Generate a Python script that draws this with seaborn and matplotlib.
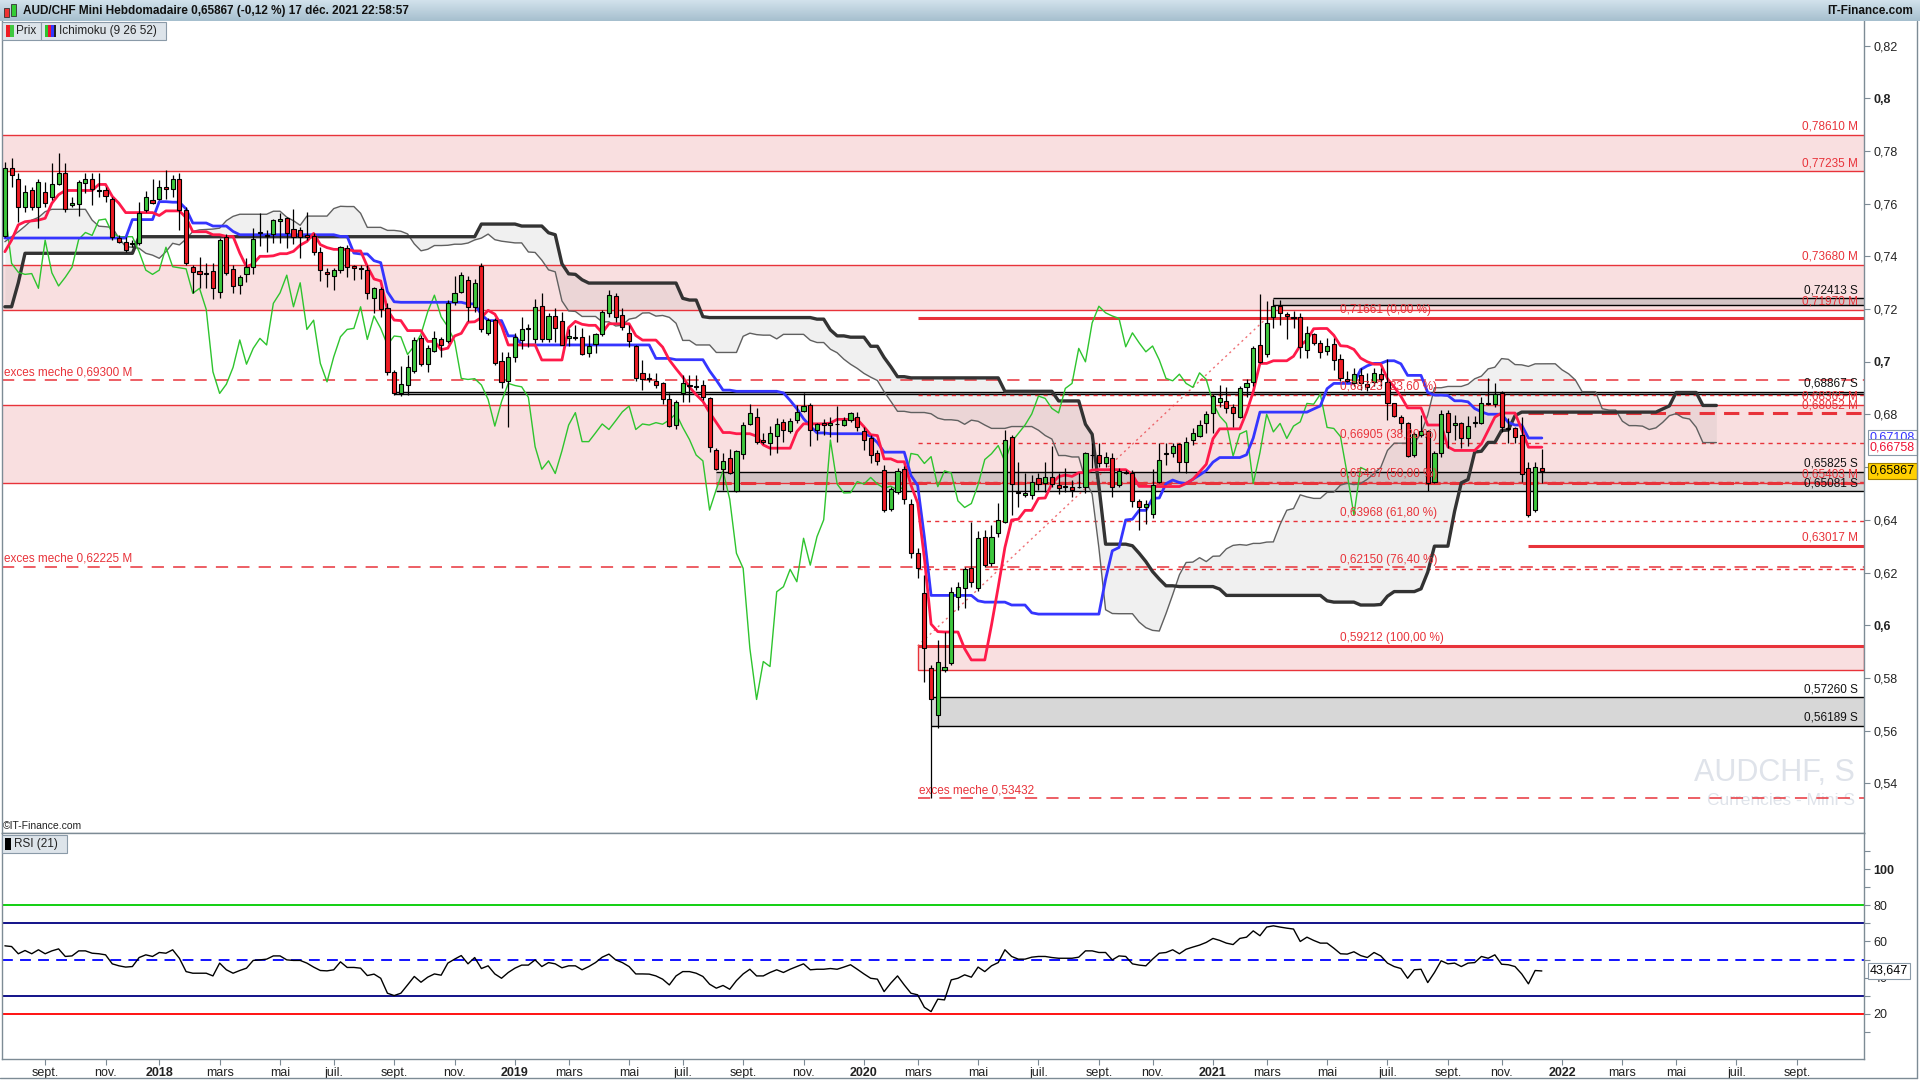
import numpy as np
import pandas as pd
import seaborn as sns
import matplotlib.pyplot as plt
from matplotlib.patches import Rectangle
from matplotlib.lines import Line2D

#-----------------------------------------------------------------------------------------
#----------------------------------- DONNEES ---------------------------------------------
#-----------------------------------------------------------------------------------------

debut = "2017-07-24"   # premiere bougie hebdomadaire

ouverture = [
    0.7479, 0.7734, 0.7696, 0.7589, 0.7652, 0.7589, 0.7646, 0.7627, 0.7677, 0.7715,
    0.7595, 0.7598, 0.7680, 0.7696, 0.7650, 0.7652, 0.7617, 0.7469, 0.7456, 0.7447,
    0.7450, 0.7576, 0.7614, 0.7620, 0.7662, 0.7655, 0.7693, 0.7576, 0.7359, 0.7345,
    0.7338, 0.7345, 0.7264, 0.7475, 0.7351, 0.7290, 0.7332, 0.7361, 0.7489, 0.7482,
    0.7485, 0.7535, 0.7545, 0.7503, 0.7501, 0.7482, 0.7477, 0.7418, 0.7342, 0.7326,
    0.7348, 0.7433, 0.7364, 0.7357, 0.7350, 0.7241, 0.7276, 0.7203, 0.6962, 0.6880,
    0.6912, 0.6965, 0.7089, 0.6991, 0.7042, 0.7085, 0.7079, 0.7228, 0.7266, 0.7310,
    0.7209, 0.7363, 0.7110, 0.7158, 0.7003, 0.6928, 0.7017, 0.7083, 0.7126, 0.7085,
    0.7211, 0.7085, 0.7174, 0.7155, 0.7089, 0.7089, 0.7095, 0.7034, 0.7067, 0.7105,
    0.7184, 0.7249, 0.7177, 0.7108, 0.7060, 0.6958, 0.6937, 0.6928, 0.6918, 0.6857,
    0.6760, 0.6880, 0.6912, 0.6906, 0.6912, 0.6861, 0.6665, 0.6592, 0.6636, 0.6509,
    0.6650, 0.6763, 0.6789, 0.6705, 0.6690, 0.6718, 0.6772, 0.6738, 0.6779, 0.6814,
    0.6836, 0.6743, 0.6769, 0.6760, 0.6764, 0.6760, 0.6779, 0.6792, 0.6738, 0.6709,
    0.6655, 0.6589, 0.6440, 0.6507, 0.6592, 0.6460, 0.6273, 0.6123, 0.5836, 0.5660,
    0.5830, 0.5855, 0.6108, 0.6140, 0.6216, 0.6140, 0.6334, 0.6235, 0.6349, 0.6390,
    0.6716, 0.6503, 0.6494, 0.6494, 0.6557, 0.6541, 0.6561, 0.6532, 0.6524, 0.6526,
    0.6524, 0.6526, 0.6646, 0.6646, 0.6614, 0.6633, 0.6532, 0.6579, 0.6576, 0.6472,
    0.6447, 0.6421, 0.6545, 0.6650, 0.6654, 0.6688, 0.6621, 0.6703, 0.6718, 0.6769,
    0.6807, 0.6848, 0.6852, 0.6829, 0.6789, 0.6903, 0.6924, 0.7063, 0.7029, 0.7171,
    0.7211, 0.7181, 0.7171, 0.7171, 0.7044, 0.7105, 0.7072, 0.7042, 0.7067, 0.7010,
    0.6933, 0.6918, 0.6949, 0.6915, 0.6924, 0.6953, 0.6924, 0.6842, 0.6789, 0.6769,
    0.6646, 0.6722, 0.6738, 0.6545, 0.6655, 0.6804, 0.6760, 0.6766, 0.6709, 0.6766,
    0.6766, 0.6844, 0.6839, 0.6880, 0.6748, 0.6747, 0.6722, 0.6595, 0.6437, 0.6595,
]

haut = [
    0.7760, 0.7772, 0.7715, 0.7671, 0.7665, 0.7696, 0.7684, 0.7753, 0.7794, 0.7753,
    0.7627, 0.7690, 0.7715, 0.7715, 0.7715, 0.7665, 0.7627, 0.7481, 0.7475, 0.7462,
    0.7608, 0.7649, 0.7693, 0.7690, 0.7728, 0.7709, 0.7715, 0.7589, 0.7367, 0.7399,
    0.7374, 0.7374, 0.7471, 0.7484, 0.7367, 0.7330, 0.7393, 0.7507, 0.7564, 0.7501,
    0.7541, 0.7564, 0.7551, 0.7582, 0.7510, 0.7570, 0.7488, 0.7437, 0.7355, 0.7355,
    0.7440, 0.7443, 0.7367, 0.7367, 0.7367, 0.7285, 0.7285, 0.7222, 0.6968, 0.6984,
    0.7026, 0.7095, 0.7102, 0.7064, 0.7118, 0.7095, 0.7234, 0.7326, 0.7342, 0.7326,
    0.7313, 0.7374, 0.7165, 0.7165, 0.7038, 0.7038, 0.7108, 0.7169, 0.7143, 0.7237,
    0.7260, 0.7186, 0.7203, 0.7190, 0.7123, 0.7140, 0.7127, 0.7100, 0.7110, 0.7196,
    0.7272, 0.7260, 0.7203, 0.7140, 0.7064, 0.7007, 0.6956, 0.6956, 0.6924, 0.6883,
    0.6855, 0.6950, 0.6950, 0.6950, 0.6931, 0.6865, 0.6671, 0.6652, 0.6668, 0.6665,
    0.6773, 0.6840, 0.6823, 0.6728, 0.6756, 0.6785, 0.6781, 0.6785, 0.6836, 0.6883,
    0.6842, 0.6766, 0.6781, 0.6789, 0.6832, 0.6789, 0.6810, 0.6810, 0.6751, 0.6722,
    0.6665, 0.6608, 0.6526, 0.6595, 0.6605, 0.6478, 0.6292, 0.6190, 0.5849, 0.5944,
    0.5975, 0.6146, 0.6165, 0.6222, 0.6393, 0.6359, 0.6362, 0.6380, 0.6465, 0.6741,
    0.6722, 0.6620, 0.6579, 0.6570, 0.6579, 0.6620, 0.6680, 0.6576, 0.6595, 0.6551,
    0.6579, 0.6659, 0.6690, 0.6693, 0.6659, 0.6655, 0.6595, 0.6589, 0.6589, 0.6478,
    0.6475, 0.6592, 0.6692, 0.6692, 0.6692, 0.6692, 0.6715, 0.6747, 0.6779, 0.6814,
    0.6877, 0.6912, 0.6905, 0.6839, 0.6908, 0.6933, 0.7060, 0.7257, 0.7232, 0.7237,
    0.7234, 0.7190, 0.7194, 0.7186, 0.7135, 0.7110, 0.7082, 0.7089, 0.7092, 0.7030,
    0.6966, 0.6975, 0.6978, 0.6956, 0.6978, 0.6978, 0.7010, 0.6844, 0.6798, 0.6772,
    0.6734, 0.6798, 0.6743, 0.6662, 0.6817, 0.6817, 0.6798, 0.6772, 0.6794, 0.6794,
    0.6867, 0.6940, 0.6921, 0.6890, 0.6785, 0.6753, 0.6791, 0.6620, 0.6620, 0.6669,
]

bas = [
    0.7475, 0.7665, 0.7532, 0.7570, 0.7576, 0.7507, 0.7589, 0.7614, 0.7671, 0.7570,
    0.7589, 0.7553, 0.7642, 0.7595, 0.7627, 0.7608, 0.7462, 0.7450, 0.7418, 0.7437,
    0.7443, 0.7570, 0.7599, 0.7614, 0.7620, 0.7627, 0.7500, 0.7367, 0.7260, 0.7279,
    0.7279, 0.7237, 0.7241, 0.7330, 0.7262, 0.7257, 0.7304, 0.7332, 0.7440, 0.7418,
    0.7450, 0.7450, 0.7434, 0.7447, 0.7393, 0.7462, 0.7405, 0.7308, 0.7285, 0.7272,
    0.7338, 0.7321, 0.7310, 0.7313, 0.7237, 0.7186, 0.7171, 0.6950, 0.6874, 0.6870,
    0.6874, 0.6959, 0.6984, 0.6962, 0.7038, 0.7017, 0.7073, 0.7215, 0.7260, 0.7156,
    0.7190, 0.7114, 0.7102, 0.6988, 0.6899, 0.6754, 0.7000, 0.7047, 0.7055, 0.7070,
    0.7076, 0.7076, 0.7076, 0.7064, 0.7060, 0.7083, 0.7025, 0.7017, 0.7034, 0.7098,
    0.7171, 0.7152, 0.7120, 0.7055, 0.6928, 0.6893, 0.6924, 0.6899, 0.6840, 0.6754,
    0.6744, 0.6849, 0.6849, 0.6893, 0.6855, 0.6659, 0.6589, 0.6513, 0.6574, 0.6504,
    0.6630, 0.6760, 0.6688, 0.6688, 0.6646, 0.6652, 0.6697, 0.6731, 0.6769, 0.6810,
    0.6680, 0.6703, 0.6722, 0.6716, 0.6697, 0.6756, 0.6772, 0.6738, 0.6665, 0.6614,
    0.6608, 0.6431, 0.6434, 0.6498, 0.6460, 0.6254, 0.6178, 0.5786, 0.53432, 0.5608,
    0.5824, 0.5849, 0.6058, 0.6064, 0.6146, 0.6131, 0.6222, 0.6225, 0.6334, 0.6387,
    0.6418, 0.6450, 0.6485, 0.6478, 0.6513, 0.6507, 0.6526, 0.6498, 0.6507, 0.6488,
    0.6520, 0.6501, 0.6595, 0.6602, 0.6602, 0.6488, 0.6526, 0.6574, 0.6450, 0.6361,
    0.6385, 0.6408, 0.6539, 0.6608, 0.6639, 0.6583, 0.6579, 0.6684, 0.6713, 0.6731,
    0.6731, 0.6827, 0.6804, 0.6751, 0.6785, 0.6867, 0.6908, 0.6994, 0.7019, 0.7130,
    0.7139, 0.7085, 0.7127, 0.7016, 0.7016, 0.7063, 0.7016, 0.7026, 0.6968, 0.6928,
    0.6924, 0.6908, 0.6893, 0.6890, 0.6908, 0.6908, 0.6779, 0.6791, 0.6728, 0.6640,
    0.6640, 0.6716, 0.6510, 0.6538, 0.6640, 0.6671, 0.6703, 0.6671, 0.6680, 0.6753,
    0.6763, 0.6836, 0.6829, 0.6734, 0.6690, 0.6690, 0.6545, 0.64116, 0.6431, 0.6540,
]

cloture = [
    0.7734, 0.7710, 0.7589, 0.7646, 0.7589, 0.7684, 0.7602, 0.7677, 0.7715, 0.7579,
    0.7604, 0.7684, 0.7693, 0.7658, 0.7652, 0.7630, 0.7475, 0.7456, 0.7424, 0.7449,
    0.7566, 0.7624, 0.7604, 0.7662, 0.7655, 0.7696, 0.7576, 0.7374, 0.7340, 0.7332,
    0.7335, 0.7279, 0.7462, 0.7338, 0.7288, 0.7321, 0.7359, 0.7465, 0.7491, 0.7480,
    0.7538, 0.7542, 0.7488, 0.7475, 0.7475, 0.7475, 0.7418, 0.7348, 0.7332, 0.7348,
    0.7435, 0.7361, 0.7357, 0.7353, 0.7260, 0.7279, 0.7199, 0.6962, 0.6880, 0.6915,
    0.6979, 0.7083, 0.6991, 0.7051, 0.7089, 0.7064, 0.7222, 0.7262, 0.7329, 0.7209,
    0.7300, 0.7123, 0.7158, 0.6994, 0.6924, 0.7019, 0.7095, 0.7123, 0.7127, 0.7209,
    0.7085, 0.7174, 0.7127, 0.7064, 0.7098, 0.7095, 0.7028, 0.7060, 0.7105, 0.7190,
    0.7253, 0.7171, 0.7133, 0.7079, 0.6937, 0.6933, 0.6936, 0.6912, 0.6857, 0.6756,
    0.6849, 0.6918, 0.6910, 0.6905, 0.6865, 0.6678, 0.6592, 0.6624, 0.6576, 0.6662,
    0.6760, 0.6807, 0.6697, 0.6697, 0.6730, 0.6764, 0.6743, 0.6776, 0.6810, 0.6832,
    0.6743, 0.6764, 0.6760, 0.6769, 0.6763, 0.6779, 0.6804, 0.6751, 0.6705, 0.6646,
    0.6624, 0.6437, 0.6516, 0.6586, 0.6478, 0.6273, 0.6216, 0.5912, 0.5718, 0.5862,
    0.5843, 0.6127, 0.6146, 0.6212, 0.6165, 0.6330, 0.6228, 0.6336, 0.6400, 0.6703,
    0.6536, 0.6502, 0.6503, 0.6545, 0.6536, 0.6561, 0.6536, 0.6520, 0.6528, 0.6513,
    0.6525, 0.6652, 0.6647, 0.6614, 0.6640, 0.6526, 0.6586, 0.6578, 0.6472, 0.6447,
    0.6462, 0.6533, 0.6629, 0.6651, 0.6682, 0.6621, 0.6696, 0.6728, 0.6760, 0.6802,
    0.6870, 0.6861, 0.6823, 0.6806, 0.6899, 0.6918, 0.7051, 0.7000, 0.7148, 0.7211,
    0.7186, 0.7174, 0.7165, 0.7057, 0.7110, 0.7072, 0.7038, 0.7060, 0.7007, 0.6937,
    0.6928, 0.6953, 0.6918, 0.6903, 0.6958, 0.6933, 0.6844, 0.6794, 0.6766, 0.6642,
    0.6726, 0.6738, 0.6538, 0.6655, 0.6801, 0.6734, 0.6766, 0.6709, 0.6756, 0.6772,
    0.6842, 0.6839, 0.6877, 0.6751, 0.6747, 0.6716, 0.6574, 0.6418, 0.6599, 0.65867,
]

rsi_21 = [
    57.6, 57.2, 53.2, 55.0, 53.2, 55.4, 53.2, 54.8, 55.9, 51.7,
    52.0, 54.8, 54.8, 53.5, 53.2, 52.6, 47.6, 46.5, 45.8, 46.1,
    51.1, 52.6, 51.7, 53.9, 53.5, 55.4, 50.7, 43.3, 42.4, 42.4,
    42.4, 40.9, 48.0, 44.3, 42.4, 43.9, 45.2, 49.5, 49.8, 50.2,
    52.0, 52.0, 49.8, 49.5, 49.5, 48.0, 45.8, 43.9, 43.7, 44.3,
    48.7, 45.6, 45.6, 45.2, 41.1, 41.9, 39.6, 31.3, 30.0, 31.3,
    35.9, 40.6, 37.4, 40.2, 42.0, 41.3, 48.0, 50.2, 52.2, 47.6,
    51.1, 45.0, 46.5, 42.0, 39.6, 42.8, 45.2, 46.9, 46.9, 49.8,
    46.1, 48.3, 47.6, 45.4, 46.5, 46.5, 44.3, 46.1, 48.3, 51.3,
    53.0, 49.8, 48.3, 46.1, 42.0, 42.0, 41.9, 40.9, 39.1, 35.9,
    40.9, 43.3, 43.3, 42.4, 40.6, 36.3, 34.1, 35.6, 33.5, 38.3,
    42.0, 44.6, 40.9, 40.9, 42.8, 44.3, 42.8, 44.6, 46.1, 47.6,
    44.3, 44.6, 44.6, 45.0, 44.6, 45.8, 47.1, 44.6, 42.0, 39.6,
    39.1, 32.2, 36.9, 40.9, 35.9, 31.3, 30.4, 23.5, 21.1, 28.0,
    27.6, 38.7, 39.6, 41.5, 40.2, 45.8, 43.3, 46.5, 48.3, 55.4,
    51.7, 50.2, 50.2, 51.3, 51.7, 51.7, 51.1, 50.7, 50.7, 50.7,
    51.3, 54.8, 54.8, 53.9, 53.9, 49.8, 52.0, 51.7, 47.6, 46.9,
    46.5, 50.2, 53.5, 53.9, 55.4, 53.2, 55.7, 56.9, 58.0, 59.5,
    61.7, 60.6, 59.1, 58.3, 61.7, 62.4, 65.9, 63.2, 68.0, 68.7,
    68.0, 67.4, 66.9, 60.0, 62.4, 60.6, 59.1, 59.1, 56.3, 53.2,
    53.0, 54.3, 52.2, 51.1, 53.9, 52.0, 48.0, 46.1, 45.0, 39.6,
    44.3, 44.6, 37.2, 42.8, 49.3, 47.6, 48.0, 46.1, 48.0, 48.3,
    51.7, 50.7, 52.6, 47.4, 47.1, 46.1, 42.0, 36.5, 43.9, 43.647,
]

# debut des lignes Ichimoku (historique avant la premiere bougie)
tenkan_debut = [0.7418, 0.7462, 0.7520, 0.7532, 0.7535, 0.7538, 0.7545, 0.7602]
kijun_debut = [
    0.7470, 0.7470, 0.7470, 0.7470, 0.7470, 0.7470, 0.7470, 0.7470, 0.7470, 0.7470,
    0.7470, 0.7470, 0.7470, 0.7470, 0.7470, 0.7470, 0.7470, 0.7470, 0.7470, 0.7540,
    0.7540, 0.7540, 0.7540, 0.7608, 0.7608,
]
ssa_debut = [
    0.7456, 0.7475, 0.7494, 0.7515, 0.7538, 0.7548, 0.7570, 0.7579, 0.7579, 0.7579,
    0.7579, 0.7579, 0.7579, 0.7538, 0.7515, 0.7513, 0.7510, 0.7469, 0.7437, 0.7435,
    0.7431, 0.7412, 0.7405, 0.7393, 0.7418, 0.7450,
]
ssb_debut = [
    0.7209, 0.7209, 0.7300, 0.7412, 0.7412, 0.7412, 0.7412, 0.7412, 0.7412, 0.7412,
    0.7412, 0.7412, 0.7412, 0.7412, 0.7412, 0.7412, 0.7412, 0.7412, 0.7412, 0.7412,
    0.7475, 0.7475, 0.7475, 0.7475, 0.7475, 0.7475, 0.7475, 0.7475, 0.7475, 0.7475,
    0.7475, 0.7475, 0.7475, 0.7475, 0.7475, 0.7475, 0.7475, 0.7475, 0.7475, 0.7475,
    0.7475, 0.7475, 0.7475, 0.7475, 0.7475, 0.7475, 0.7475, 0.7475, 0.7475, 0.7475,
    0.7475, 0.7475, 0.7475, 0.7475, 0.7475, 0.7475, 0.7475, 0.7475, 0.7475, 0.7475,
    0.7475, 0.7475, 0.7475, 0.7475, 0.7475, 0.7475, 0.7475, 0.7475, 0.7475, 0.7475,
    0.7475, 0.7523, 0.7523, 0.7523, 0.7523, 0.7523, 0.7523,
]

# zones et niveaux
zones_m = [(0.77235, 0.78610), (0.71970, 0.73680), (0.65403, 0.68365)]
zone_basse = (0.58290, 0.59212)
niveaux_m = [0.78610, 0.77235, 0.73680, 0.71970, 0.68365, 0.68052, 0.65403, 0.63017]
niveaux_s = [0.72413, 0.68867, 0.65825, 0.65081, 0.57260, 0.56189]
bandes_s = [(0.72150, 0.72413), (0.68760, 0.68867), (0.65081, 0.65825), (0.56189, 0.57260)]
fibo_niveaux = [0.71661, 0.68723, 0.66905, 0.65437, 0.63968, 0.62150, 0.59212]
fibo_pct = ["0,00", "23,60", "38,20", "50,00", "61,80", "76,40", "100,00"]
exces = [0.69300, 0.62225, 0.53432]

#-----------------------------------------------------------------------------------------
#----------------------------------- CALCULS ---------------------------------------------
#-----------------------------------------------------------------------------------------

n = len(cloture)
dates = pd.date_range(debut, periods=n, freq="7D")
dates_ext = pd.date_range(debut, periods=n + 26, freq="7D")
semaines = pd.date_range(debut, periods=300, freq="7D")

hs = pd.Series(haut)
ls = pd.Series(bas)
tenkan = (hs.rolling(9).max() + ls.rolling(9).min()) / 2
tenkan.iloc[:8] = tenkan_debut
kijun = (hs.rolling(26).max() + ls.rolling(26).min()) / 2
kijun.iloc[:25] = kijun_debut

ssa = np.full(n + 26, np.nan)
ssa[:26] = ssa_debut
ssa[26:] = ((tenkan + kijun) / 2).values
mid52 = ((hs.rolling(52).max() + ls.rolling(52).min()) / 2).values
ssb = np.full(n + 26, np.nan)
ssb[:77] = ssb_debut
ssb[77:] = mid52[51:]


def virgule(v, d=5):
    return f"{v:.{d}f}".replace(".", ",")


#-----------------------------------------------------------------------------------------
#----------------------------------- FIGURE ----------------------------------------------
#-----------------------------------------------------------------------------------------

sns.set_theme(style="white")
plt.rcParams["font.family"] = ["Liberation Sans", "DejaVu Sans"]

W, H = 1920, 1080
def fx(x): return x / W
def fy(y): return 1 - y / H

fig = plt.figure(figsize=(19.2, 10.8), dpi=100)
fig.patch.set_facecolor("white")

ax = fig.add_axes([fx(2), fy(833), fx(1864) - fx(2), fy(21) - fy(833)])
ax_rsi = fig.add_axes([fx(2), fy(1059), fx(1864) - fx(2), fy(833) - fy(1059)], sharex=ax)

ROUGE = "#e8333a"
ROSE = "#f9dfe0"
x0 = pd.Timestamp(debut) - pd.Timedelta(days=3)
x1 = pd.Timestamp(debut) + pd.Timedelta(days=1939)

# zones roses (resistances M)
for b, t in zones_m:
    ax.axhspan(b, t, color=ROSE, lw=0, zorder=0)
    ax.axhline(b, color=ROUGE, lw=1, zorder=2)
    ax.axhline(t, color=ROUGE, lw=1, zorder=2)
ax.add_patch(Rectangle((dates[136], zone_basse[0]), x1 - dates[136], zone_basse[1] - zone_basse[0],
                       facecolor=ROSE, edgecolor=ROUGE, lw=1, zorder=0))

# bandes grises (supports S)
debuts_s = [dates[189], dates[58], dates[106], dates[138]]
for (b, t), xs in zip(bandes_s, debuts_s):
    ax.fill_between([xs, x1], b, t, color="#a0a0a0", alpha=0.42, lw=0, zorder=1)
    ax.hlines([b, t], xs, x1, color="black", lw=1, zorder=2)

# niveaux rouges partiels
ax.hlines(0.68052, dates[227], x1, color=ROUGE, lw=2.2, linestyles=(0, (5, 3)), zorder=2)
ax.hlines(0.65403, dates[106], x1, color=ROUGE, lw=2.2, linestyles=(0, (5, 3)), zorder=2)
ax.hlines(0.63017, dates[227], x1, color=ROUGE, lw=2.2, zorder=2)

# exces de meche
ax.axhline(exces[0], color=ROUGE, lw=1.1, ls=(0, (8, 6)), zorder=2)
ax.axhline(exces[1], color=ROUGE, lw=1.1, ls=(0, (8, 6)), zorder=2)
ax.hlines(exces[2], dates[136], x1, color=ROUGE, lw=1.1, linestyles=(0, (8, 6)), zorder=2)

# retracements de Fibonacci
for k, v in enumerate(fibo_niveaux):
    if k in (0, len(fibo_niveaux) - 1):
        ax.hlines(v, dates[136], x1, color=ROUGE, lw=2.2, zorder=2)
    else:
        ax.hlines(v, dates[136], x1, color=ROUGE, lw=1, linestyles=(0, (3, 3)), zorder=2)
    ax.annotate(f"{virgule(v)} ({fibo_pct[k]} %)", xy=(dates[199], v), xytext=(0, 1.5),
                textcoords="offset points", ha="left", va="bottom", fontsize=8.5,
                color=ROUGE, zorder=6)
ax.plot([dates[136], dates[188]], [fibo_niveaux[-1], fibo_niveaux[0]], color=ROUGE,
        lw=1, ls=(0, (1.5, 2.5)), alpha=0.7, zorder=2)

# nuage Ichimoku
ax.fill_between(dates_ext, ssa, ssb, color="#a0a0a0", alpha=0.15, lw=0, zorder=1)
sns.lineplot(x=dates_ext, y=ssa, ax=ax, color="#606060", linewidth=1.0, estimator=None,
             sort=False, legend=False, zorder=3)
sns.lineplot(x=dates_ext, y=ssb, ax=ax, color="#333333", linewidth=2.4, estimator=None,
             sort=False, legend=False, zorder=3)
sns.lineplot(x=dates[:n - 26], y=cloture[26:], ax=ax, color="#2ec42e", linewidth=1.0,
             estimator=None, sort=False, legend=False, zorder=3)
sns.lineplot(x=dates, y=kijun.values, ax=ax, color="#3535ff", linewidth=2.0, estimator=None,
             sort=False, legend=False, zorder=3)
sns.lineplot(x=dates, y=tenkan.values, ax=ax, color="#ff1a4a", linewidth=2.0, estimator=None,
             sort=False, legend=False, zorder=3)

# bougies
o = np.array(ouverture)
c = np.array(cloture)
hausse = c >= o
ecart = np.abs(c - o)
corps = np.maximum(ecart, 0.0003)
base = np.minimum(o, c) - (corps - ecart) / 2
ax.vlines(dates, bas, haut, color="black", lw=0.9, zorder=4)
ax.bar(dates[hausse], corps[hausse], bottom=base[hausse], width=4.3, color="#3ec83e",
       edgecolor="black", linewidth=0.8, zorder=5)
ax.bar(dates[~hausse], corps[~hausse], bottom=base[~hausse], width=4.3, color="#ee1c25",
       edgecolor="black", linewidth=0.8, zorder=5)

# libelles des niveaux a droite
xr = (1858 - 2) / 1862
for v in niveaux_m:
    ax.annotate(f"{virgule(v)} M", xy=(xr, v), xycoords=("axes fraction", "data"),
                xytext=(0, 1.5), textcoords="offset points", ha="right", va="bottom",
                fontsize=8.5, color=ROUGE, zorder=6)
for v in niveaux_s:
    ax.annotate(f"{virgule(v)} S", xy=(xr, v), xycoords=("axes fraction", "data"),
                xytext=(0, 1.5), textcoords="offset points", ha="right", va="bottom",
                fontsize=8.5, color="#111111", zorder=6)
for v in exces[:2]:
    ax.annotate(f"exces meche {virgule(v)} M", xy=(0.001, v), xycoords=("axes fraction", "data"),
                xytext=(0, 1.5), textcoords="offset points", ha="left", va="bottom",
                fontsize=8.5, color=ROUGE, zorder=6)
ax.annotate(f"exces meche {virgule(exces[2])}", xy=(dates[136], exces[2]), xytext=(1, 1.5),
            textcoords="offset points", ha="left", va="bottom", fontsize=8.5, color=ROUGE,
            zorder=6)

# filigrane
ax.text(0.995, 0.074, "AUDCHF, S", transform=ax.transAxes, ha="right", va="center",
        fontsize=22, color="#dfe3ea", zorder=0.5)
ax.text(0.995, 0.040, "Currencies - Mini S", transform=ax.transAxes, ha="right", va="center",
        fontsize=12.5, color="#dfe3ea", zorder=0.5)

# etiquettes de l'axe de droite
boites = [
    (kijun.values[-1], "#3333ff", "white", "#8a9aa8"),
    (tenkan.values[-1], "#ee1133", "white", "#8a9aa8"),
    (cloture[-1], "black", "#ffd000", "#a08000"),
]
for v, ct, fc, ec in boites:
    ax.annotate(virgule(v), xy=(1.0, v), xycoords=("axes fraction", "data"), xytext=(4, 0),
                textcoords="offset points", ha="left", va="center", fontsize=9, color=ct,
                bbox=dict(boxstyle="square,pad=0.15", fc=fc, ec=ec, lw=0.8),
                annotation_clip=False, zorder=7)

ax.set_xlim(x0, x1)
ax.set_ylim(0.5211, 0.8294)
ax.yaxis.tick_right()
prix_ticks = np.round(np.arange(0.54, 0.8201, 0.02), 2)
ax.set_yticks(prix_ticks)
ax.set_yticklabels([f"{v:.2f}".rstrip("0").replace(".", ",") for v in prix_ticks])
for lab, v in zip(ax.get_yticklabels(), prix_ticks):
    if abs(v * 10 - round(v * 10)) < 1e-6:
        lab.set_fontweight("bold")
ax.tick_params(axis="y", direction="out", length=4, width=0.8, colors="#7d8b95",
               labelcolor="#222222", labelsize=9, pad=3, right=True, left=False)
ax.tick_params(axis="x", bottom=False, labelbottom=False)
ax.set_xlabel("")
ax.set_ylabel("")

# panneau RSI
for niv, coul, st in [(80, "#00cc00", "-"), (70, "#000080", "-"), (50, "#0000ff", (0, (6, 4))),
                      (30, "#000080", "-"), (20, "#ff0000", "-")]:
    ax_rsi.axhline(niv, color=coul, lw=1.3, ls=st, zorder=1)
sns.lineplot(x=dates, y=rsi_21, ax=ax_rsi, color="black", linewidth=1.0, estimator=None,
             sort=False, legend=False, zorder=3)
ax_rsi.annotate(virgule(rsi_21[-1], 3), xy=(1.0, rsi_21[-1]), xycoords=("axes fraction", "data"),
                xytext=(4, 0), textcoords="offset points", ha="left", va="center", fontsize=9,
                color="black", bbox=dict(boxstyle="square,pad=0.15", fc="white", ec="#8a9aa8",
                                         lw=0.8), annotation_clip=False, zorder=7)
ax_rsi.set_ylim(-5.2, 120.2)
ax_rsi.yaxis.tick_right()
ax_rsi.set_yticks([20, 40, 60, 80, 100])
ax_rsi.set_yticklabels(["20", "40", "60", "80", "100"])
ax_rsi.get_yticklabels()[-1].set_fontweight("bold")
ax_rsi.set_yticks([10, 30, 50, 70, 90, 110], minor=True)
ax_rsi.tick_params(axis="y", which="both", direction="out", length=4, width=0.8,
                   colors="#7d8b95", labelcolor="#222222", labelsize=9, pad=3, right=True,
                   left=False)
ax_rsi.set_xlabel("")
ax_rsi.set_ylabel("")

# axe des dates : premiere bougie de chaque mois
mois = {3: "mars", 5: "mai", 7: "juil.", 9: "sept.", 11: "nov."}
debuts_mois = pd.date_range("2017-09-01", "2022-09-01", freq="2MS")
ticks_dates = [semaines[semaines >= m][0] for m in debuts_mois]
ax_rsi.set_xticks(ticks_dates)
ax_rsi.set_xticklabels([str(m.year) if m.month == 1 else mois[m.month] for m in debuts_mois])
for lab, m in zip(ax_rsi.get_xticklabels(), debuts_mois):
    if m.month == 1:
        lab.set_fontweight("bold")
ax_rsi.tick_params(axis="x", direction="out", length=4, width=0.8, colors="#7d8b95",
                   labelcolor="#222222", labelsize=9, pad=2, bottom=True)
ax_rsi.set_xlim(x0, x1)

for a in (ax, ax_rsi):
    for s in a.spines.values():
        s.set_color("#7d8b95")
        s.set_linewidth(1)
ax.spines["top"].set_visible(False)

# bandeau du haut
bandeau = fig.add_axes([0, fy(21), 1, 21 / H])
grad = np.linspace(0, 1, 50).reshape(-1, 1)
bandeau.imshow(grad, aspect="auto", cmap=plt.matplotlib.colors.LinearSegmentedColormap.from_list(
    "bandeau", ["#d2e2ec", "#a6bfce"]), extent=[0, 1, 0, 1])
bandeau.set_axis_off()
fig.text(fx(23), fy(11), "AUD/CHF Mini Hebdomadaire 0,65867 (-0,12 %) 17 déc. 2021 22:58:57",
         fontsize=8.5, fontweight="bold", va="center", ha="left", color="#111111")
fig.text(fx(1913), fy(11), "IT-Finance.com", fontsize=8.5, fontweight="bold", va="center",
         ha="right", color="#111111")
fig.add_artist(Rectangle((fx(4), fy(17)), fx(5), 9 / H, transform=fig.transFigure,
                         fc="#ee3333", ec="#333333", lw=0.6))
fig.add_artist(Rectangle((fx(11), fy(16)), fx(5), 12 / H, transform=fig.transFigure,
                         fc="#33cc33", ec="#333333", lw=0.6))

# boites de legende
def boite(xa, ya, xb, yb):
    fig.add_artist(Rectangle((fx(xa), fy(yb)), fx(xb - xa), (yb - ya) / H,
                             transform=fig.transFigure, fc="#dde4ea", ec="#8a9aa8", lw=0.8,
                             zorder=10))

def pastille(xa, ya, w, h, coul):
    fig.add_artist(Rectangle((fx(xa), fy(ya + h)), fx(w), h / H, transform=fig.transFigure,
                             fc=coul, ec="none", zorder=11))

boite(2, 22, 41, 40)
pastille(6, 25, 4, 12, "#ee1c25")
pastille(10, 25, 4, 12, "#3ec83e")
fig.text(fx(16), fy(31), "Prix", fontsize=8.5, va="center", ha="left", color="#222222", zorder=12)
boite(41, 22, 166, 40)
pastille(45, 25, 3, 12, "#2ec42e")
pastille(48, 25, 3, 12, "#ee1133")
pastille(51, 25, 3, 12, "#3535ff")
pastille(54, 25, 2, 12, "#222222")
fig.text(fx(59), fy(31), "Ichimoku (9 26 52)", fontsize=8.5, va="center", ha="left",
         color="#222222", zorder=12)
boite(2, 835, 67, 853)
pastille(5, 838, 6, 12, "black")
fig.text(fx(14), fy(844), "RSI (21)", fontsize=8.5, va="center", ha="left", color="#222222",
         zorder=12)
fig.text(fx(3), fy(826), "©IT-Finance.com", fontsize=7.5, va="center", ha="left",
         color="#222222")

# bordures
fig.add_artist(Line2D([fx(1917), fx(1917)], [fy(21), fy(1078)], transform=fig.transFigure,
                      color="#7d8b95", lw=1))
fig.add_artist(Line2D([0, fx(1917)], [fy(1078), fy(1078)], transform=fig.transFigure,
                      color="#7d8b95", lw=1))

fig.savefig("out.png", dpi=100)
